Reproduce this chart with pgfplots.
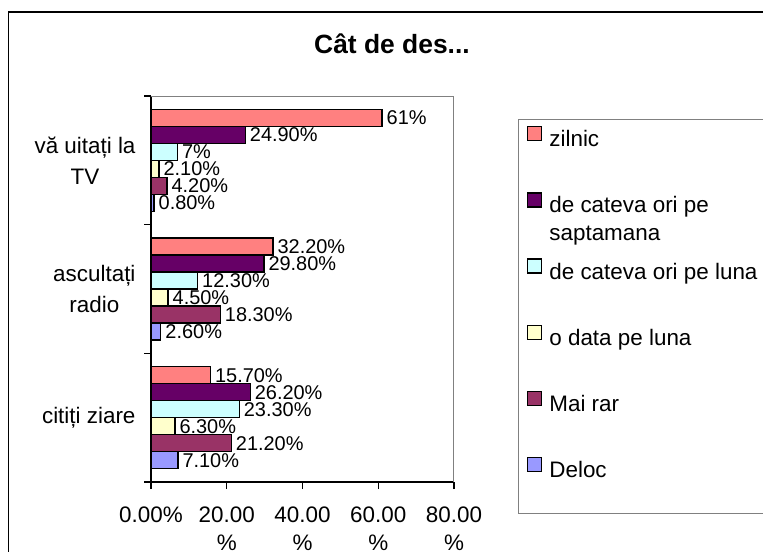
\documentclass[border=0pt]{standalone}
\usepackage{fontspec}
\setmainfont{Liberation Sans}
\usepackage{pgfplots}
\pgfplotsset{compat=1.18}

\definecolor{cZilnic}{HTML}{FF8080}
\definecolor{cSapt}{HTML}{660066}
\definecolor{cLuna}{HTML}{CCFFFF}
\definecolor{cData}{HTML}{FFFFCC}
\definecolor{cRar}{HTML}{993366}
\definecolor{cDeloc}{HTML}{9999FF}

\begin{document}
\begin{tikzpicture}
\useasboundingbox (0,0) rectangle (763bp,-552bp);
% chart area frame, cut at right and bottom
\draw[black, line width=1.2bp] (8.5bp,-12bp) rectangle (790bp,-590bp);
% legend box
\draw[gray, line width=1bp] (518bp,-119bp) rectangle (790bp,-513bp);
\node[font=\fontsize{26.5}{30}\selectfont\bfseries] at (392bp,-44bp) {Cât de des...};

\begin{axis}[
  at={(151bp,-482bp)}, anchor=south west,
  scale only axis, width=303bp, height=386bp,
  xbar=0pt, bar width=17bp,
  xmin=0, xmax=80, ymin=-0.5, ymax=2.5, y dir=reverse,
  clip=false,
  axis x line*=bottom, axis y line*=left,
  axis line style={black, line width=1.2bp, -},
  tick style={black, line width=1.2bp},
  tick align=outside, major tick length=7bp,
  xtick={0,20,40,60,80},
  xticklabels={0.00\%, 20.00\\\%, 40.00\\\%, 60.00\\\%, 80.00\\\%},
  xticklabel style={align=center, font=\fontsize{22.5}{28}\selectfont, yshift=-14bp},
  ytick={-0.5,0.5,1.5,2.5}, yticklabels={},
  extra y ticks={0,1,2},
  extra y tick labels={vă uitați la\\TV, ascultați\\radio, citiți ziare},
  extra y tick style={major tick length=0pt,
    yticklabel style={align=center, anchor=east, font=\fontsize{22.5}{31}\selectfont, xshift=-12bp}},
  point meta=explicit symbolic,
  nodes near coords,
  nodes near coords style={anchor=west, xshift=2bp, font=\fontsize{20}{24}\selectfont, inner sep=2bp, text=black},
  every axis plot/.append style={draw=black, line width=1.3bp},
  legend image code/.code={\draw[#1, draw=black, line width=1.2bp] (0bp,0bp) rectangle (14bp,14bp);},
  legend cell align=left,
  legend style={at={(axis description cs:1,1)}, anchor=north west,
    xshift=73bp, yshift=-30bp, draw=none, fill=none,
    font=\fontsize{22.5}{28}\selectfont, row sep=41.5bp, column sep=7bp,
    inner sep=0pt, nodes={inner sep=0pt, text height=16bp, text depth=4bp}},
]
\addplot[fill=cZilnic, bar shift=42.5bp] coordinates {(61,0) [61\%] (32.2,1) [32.20\%] (15.7,2) [15.70\%]};
\addlegendentry{zilnic}
\addplot[fill=cSapt, bar shift=25.5bp] coordinates {(24.9,0) [24.90\%] (29.8,1) [29.80\%] (26.2,2) [26.20\%]};
\addlegendentry{\begin{tabular}[t]{@{}l@{}}de cateva ori pe\\saptamana\end{tabular}}
\addplot[fill=cLuna, bar shift=8.5bp] coordinates {(7,0) [7\%] (12.3,1) [12.30\%] (23.3,2) [23.30\%]};
\addlegendentry{de cateva ori pe luna}
\addplot[fill=cData, bar shift=-8.5bp] coordinates {(2.1,0) [2.10\%] (4.5,1) [4.50\%] (6.3,2) [6.30\%]};
\addlegendentry{o data pe luna}
\addplot[fill=cRar, bar shift=-25.5bp] coordinates {(4.2,0) [4.20\%] (18.3,1) [18.30\%] (21.2,2) [21.20\%]};
\addlegendentry{Mai rar}
\addplot[fill=cDeloc, bar shift=-42.5bp] coordinates {(0.8,0) [0.80\%] (2.6,1) [2.60\%] (7.1,2) [7.10\%]};
\addlegendentry{Deloc}
\draw[gray, line width=1bp] (axis cs:0,-0.5) -- (axis cs:80,-0.5) -- (axis cs:80,2.5);
\end{axis}
\end{tikzpicture}
\end{document}
